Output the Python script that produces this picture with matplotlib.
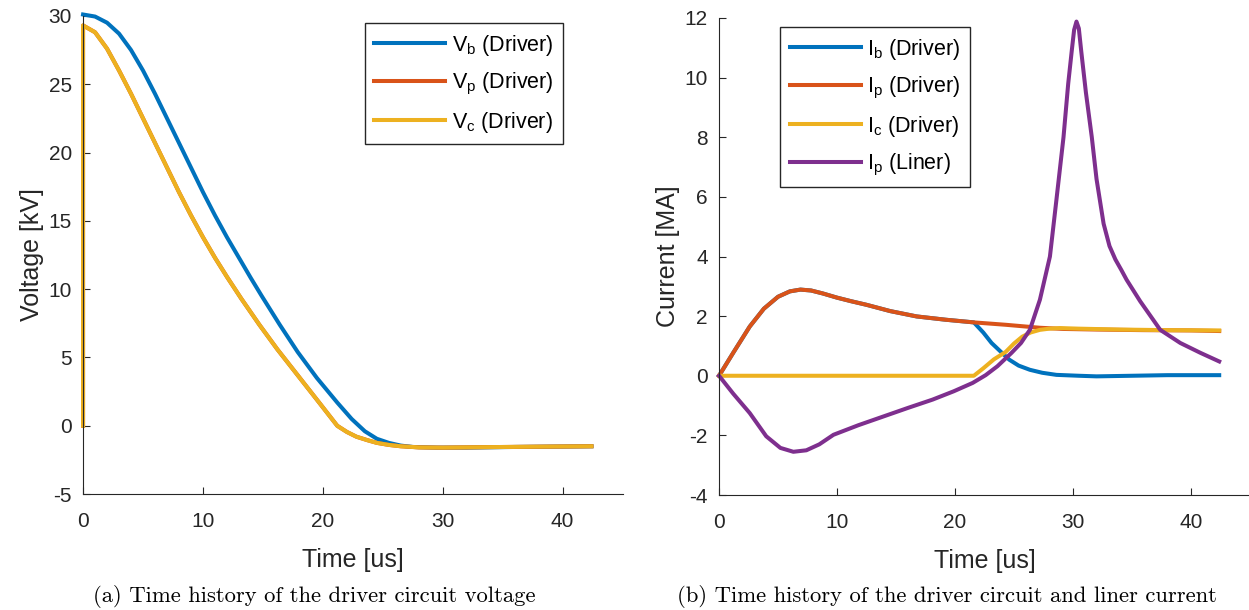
import matplotlib
matplotlib.use("Agg")
import matplotlib.pyplot as plt

plt.rcParams.update({
    'font.family': ['Liberation Sans', 'DejaVu Sans'],
    'mathtext.fontset': 'custom',
    'mathtext.rm': 'Liberation Sans',
    'axes.unicode_minus': False,
    'axes.edgecolor': '#262626',
    'axes.labelcolor': '#262626',
    'xtick.color': '#262626',
    'ytick.color': '#262626',
})

# --- left panel: driver voltage [kV] ---
t_vb = [0, 1, 2, 3, 4, 5, 6, 7, 8, 9, 10, 11, 12, 13, 14, 14.9, 16.4, 17.9,
        19.5, 21.2, 22.4, 23.5, 24.5, 25.5, 26.5, 27.5, 29.5, 32, 36, 40, 42.4]
vb = [30.1, 29.95, 29.5, 28.7, 27.5, 26.0, 24.3, 22.5, 20.7, 18.9, 17.1, 15.4,
      13.8, 12.3, 10.8, 9.5, 7.4, 5.4, 3.5, 1.7, 0.5, -0.4, -0.95, -1.25, -1.45,
      -1.55, -1.6, -1.6, -1.55, -1.52, -1.5]
t_vc = [0, 0, 1, 2, 3, 4, 5, 6, 7, 8, 9, 10, 11, 12, 13.2, 14.7, 16.2, 17.9,
        19.6, 21.2, 22.0, 22.8, 23.7, 24.5, 25.5, 26.5, 28, 30, 34, 38, 42.4]
vc = [0, 29.3, 28.8, 27.6, 26.0, 24.3, 22.5, 20.7, 18.9, 17.1, 15.4, 13.8, 12.3,
      10.9, 9.3, 7.4, 5.6, 3.7, 1.8, 0.0, -0.45, -0.8, -1.05, -1.25, -1.4, -1.5,
      -1.58, -1.6, -1.56, -1.53, -1.5]
vp = [0, 29.3, 28.8, 27.6, 26.0, 24.3, 22.5, 20.7, 18.9, 17.1, 15.4, 13.8, 12.3,
      10.9, 9.3, 7.4, 5.6, 3.7, 1.8, 0.0, -0.45, -0.8, -1.05, -1.25, -1.4, -1.5,
      -1.58, -1.6, -1.56, -1.53, -1.5]

# --- right panel: currents [MA] ---
t_ip = [0, 1.2, 2.6, 3.8, 5.0, 6.0, 6.9, 7.8, 8.8, 10.0, 11.2, 12.5, 14.5,
        16.75, 19.2, 21.6, 24.3, 27.2, 29.2, 32, 36, 40, 42.4]
ip = [0, 0.77, 1.65, 2.25, 2.65, 2.83, 2.89, 2.86, 2.76, 2.62, 2.5, 2.38, 2.17,
      1.99, 1.88, 1.79, 1.71, 1.61, 1.57, 1.55, 1.53, 1.52, 1.5]
t_ib = [0, 1.2, 2.6, 3.8, 5.0, 6.0, 6.9, 7.8, 8.8, 10.0, 11.2, 12.5, 14.5,
        16.75, 19.2, 21.6, 22.4, 23.1, 23.9, 24.6, 25.4, 26.35, 27.4, 28.6,
        30.5, 32, 35, 38, 42.4]
ib = [0, 0.77, 1.65, 2.25, 2.65, 2.83, 2.89, 2.86, 2.76, 2.62, 2.5, 2.38, 2.17,
      1.99, 1.88, 1.79, 1.45, 1.1, 0.8, 0.54, 0.34, 0.2, 0.1, 0.03, 0.0,
      -0.02, 0.0, 0.02, 0.02]
t_ic = [0, 21.6, 22.4, 23.3, 24.3, 25.0, 25.7, 26.4, 27.2, 28.0, 28.9, 30.5,
        34, 38, 42.4]
ic = [0, 0, 0.25, 0.55, 0.8, 1.08, 1.31, 1.45, 1.54, 1.58, 1.6, 1.58, 1.55,
      1.53, 1.52]
t_il = [0, 1.2, 2.6, 4.0, 5.2, 6.3, 7.4, 8.5, 9.7, 11.8, 13.9, 16.0, 18.1,
        19.9, 21.5, 22.6, 23.6, 24.8, 25.6, 26.35, 27.2, 28.05, 28.6, 29.2,
        29.6, 29.9, 30.1, 30.3, 30.5, 30.7, 31.1, 31.6, 32.0, 32.6, 33.1,
        33.6, 34.1, 34.55, 35.7, 37.4, 39.1, 40.8, 42.4]
il = [0, -0.6, -1.25, -2.03, -2.42, -2.55, -2.5, -2.3, -1.98, -1.66, -1.37,
      -1.08, -0.8, -0.52, -0.24, 0.02, 0.32, 0.77, 1.1, 1.54, 2.55, 4.0, 5.9,
      8.0, 9.8, 10.9, 11.6, 11.88, 11.65, 10.9, 9.5, 8.0, 6.6, 5.1, 4.35, 3.9,
      3.55, 3.22, 2.5, 1.54, 1.1, 0.77, 0.48]

blue, orange, yellow, purple = '#0072BD', '#D95319', '#EDB120', '#7E2F8E'
LW = 2.9

fig = plt.figure(figsize=(12.49, 6.10), dpi=100)
ax1 = fig.add_axes([0.0665, 0.19, 0.432, 0.784])
ax2 = fig.add_axes([0.5757, 0.1885, 0.425, 0.782])

ax1.plot(t_vb, vb, color=blue, lw=LW, clip_on=False, label=r'V$_\mathregular{b}$ (Driver)')
ax1.plot(t_vc, vp, color=orange, lw=LW, clip_on=False, label=r'V$_\mathregular{p}$ (Driver)')
ax1.plot(t_vc, vc, color=yellow, lw=LW, clip_on=False, label=r'V$_\mathregular{c}$ (Driver)')
ax1.set_xlim(0, 45)
ax1.set_ylim(-5, 30)
ax1.set_yticks([-5, 0, 5, 10, 15, 20, 25, 30])
ax1.set_ylabel('Voltage [kV]', fontsize=18, labelpad=3)
ax1.set_xlabel('Time [us]', fontsize=18, labelpad=12)

ax2.plot(t_ib, ib, color=blue, lw=LW, clip_on=False, label=r'I$_\mathregular{b}$ (Driver)')
ax2.plot(t_ip, ip, color=orange, lw=LW, clip_on=False, label=r'I$_\mathregular{p}$ (Driver)')
ax2.plot(t_ic, ic, color=yellow, lw=LW, clip_on=False, label=r'I$_\mathregular{c}$ (Driver)')
ax2.plot(t_il, il, color=purple, lw=LW, clip_on=False, label=r'I$_\mathregular{p}$ (Liner)')
ax2.set_xlim(0, 45)
ax2.set_ylim(-4, 12)
ax2.set_yticks(range(-4, 13, 2))
ax2.set_ylabel('Current [MA]', fontsize=18, labelpad=3)
ax2.set_xlabel('Time [us]', fontsize=18, labelpad=12)

for ax, anchor in ((ax1, (0.522, 0.985)), (ax2, (0.115, 0.981))):
    ax.legend(loc='upper left', bbox_to_anchor=anchor, fontsize=15.5,
              handlelength=3.3, handletextpad=0.3, labelspacing=0.6,
              borderpad=0.45, fancybox=False, edgecolor='#262626',
              framealpha=1, borderaxespad=0)
    ax.spines['top'].set_visible(False)
    ax.spines['right'].set_visible(False)
    ax.set_xticks([0, 10, 20, 30, 40])
    ax.tick_params(direction='in', labelsize=15, length=5)
    ax.tick_params(axis='x', pad=13)
    ax.tick_params(axis='y', pad=8)

fig.text(0.2515, 0.013, '(a) Time history of the driver circuit voltage',
         family='cmr10', fontsize=16.3, ha='center', va='baseline')
fig.text(0.758, 0.013, '(b) Time history of the driver circuit and liner current',
         family='cmr10', fontsize=16.3, ha='center', va='baseline')

fig.savefig('out.png', dpi=100)
